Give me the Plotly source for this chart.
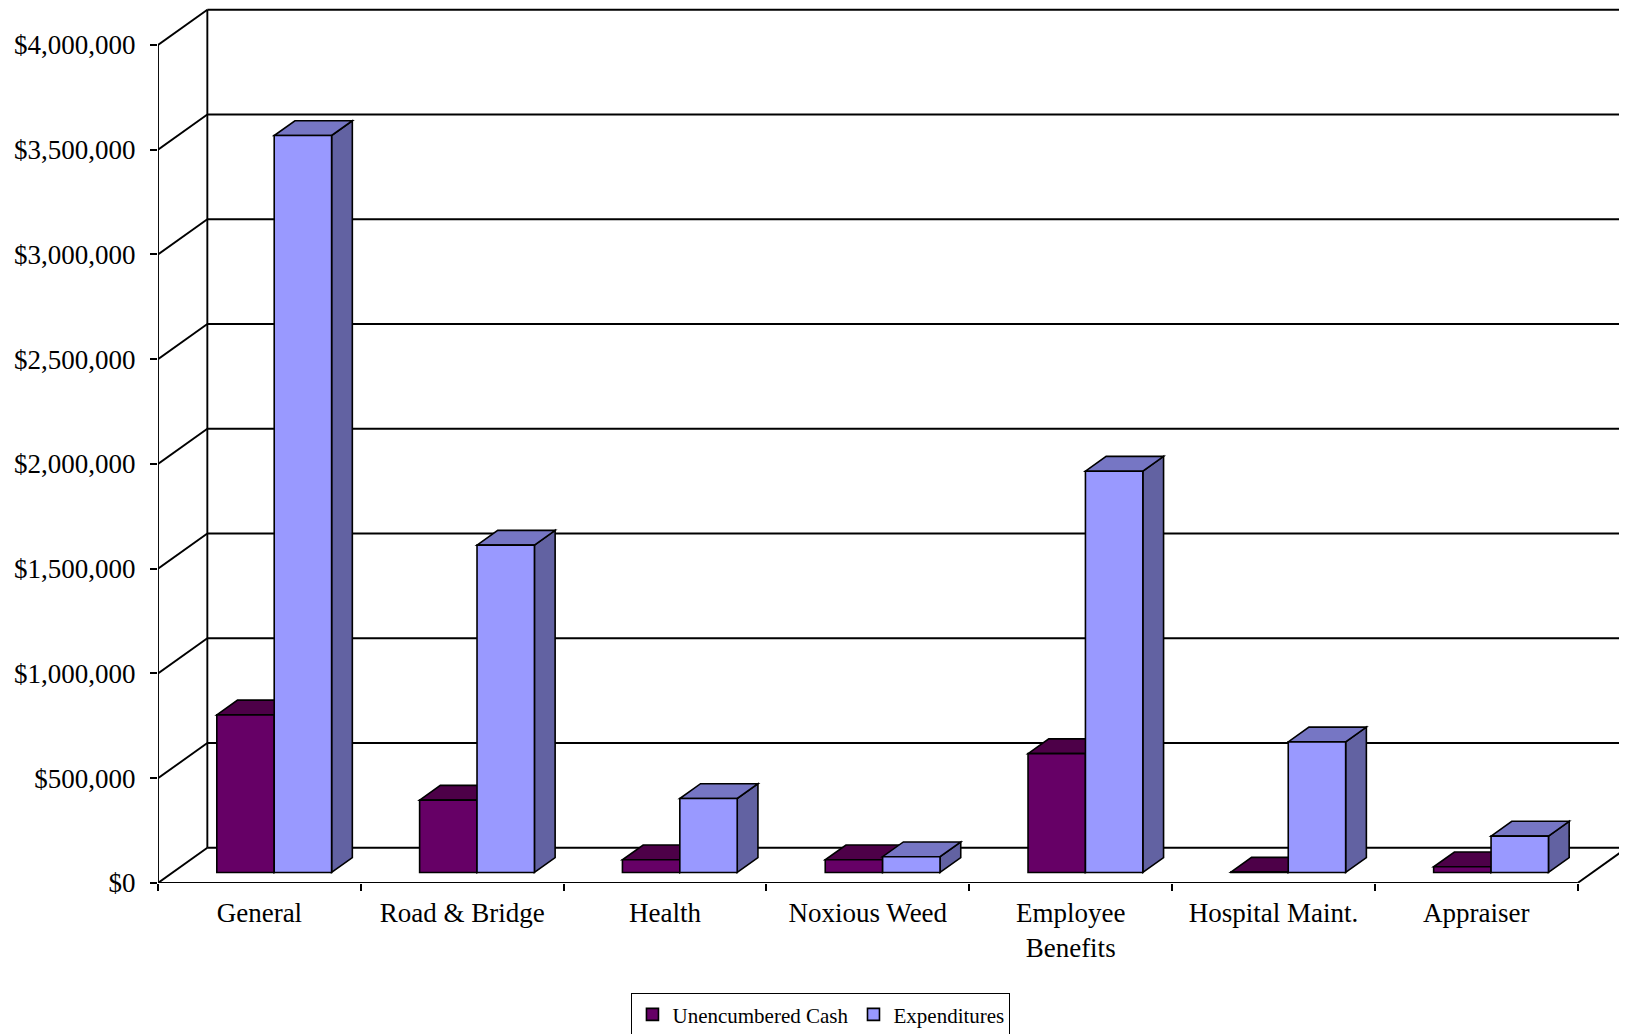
import plotly.graph_objects as go

# ---------------- data ----------------
CATEGORIES = ["General", "Road & Bridge", "Health", "Noxious Weed",
              "Employee<br>Benefits", "Hospital Maint.", "Appraiser"]
UNENCUMBERED_CASH = [752000, 345000, 60500, 60500, 567000, 1500, 27000]
EXPENDITURES = [3517000, 1562000, 353000, 75000, 1915000, 623000, 173500]
Y_TICKS = [0, 500000, 1000000, 1500000, 2000000, 2500000, 3000000, 3500000, 4000000]
Y_TICK_LABELS = ["$0", "$500,000", "$1,000,000", "$1,500,000", "$2,000,000",
                 "$2,500,000", "$3,000,000", "$3,500,000", "$4,000,000"]

# ---------------- pseudo-3D geometry (data units) ----------------
N = len(CATEGORIES)
DX = 0.2433          # depth offset along x (category units)
DY = 168000          # depth offset along y (value units)
F0, F1 = 0.30, 0.72  # front / back depth fraction of bars
BAR_W = 0.283
XMAX = N + DX
YMAX = 4176000
DXB = (F1 - F0) * DX
DYB = (F1 - F0) * DY
BASE = F0 * DY

SERIES = [
    dict(name="Unencumbered Cash", values=UNENCUMBERED_CASH,
         front="#660066", top="#4d0048", side="#3a0038", slot=-1),
    dict(name="Expenditures", values=EXPENDITURES,
         front="#9999ff", top="#7676c4", side="#6262a2", slot=0),
]

LINE = dict(color="black", width=1.9)
shapes = []

def seg(x0, y0, x1, y1):
    shapes.append(dict(type="line", xref="x", yref="y", x0=x0, y0=y0, x1=x1, y1=y1,
                       line=LINE, layer="below"))

# walls / floor
top_val = Y_TICKS[-1]
seg(0, 0, 0, top_val)
seg(DX, DY, DX, top_val + DY)
for v in Y_TICKS:
    seg(0, v, DX, v + DY)
    seg(DX, v + DY, XMAX, v + DY)
seg(0, 0, N, 0)
seg(N, 0, N + DX, DY)

fig = go.Figure()

# faces (top / side) as shapes below the bar traces
for i in range(N):
    for s in SERIES:
        v = s["values"][i]
        L = i + 0.5 + s["slot"] * BAR_W + F0 * DX
        R = L + BAR_W
        T = BASE + v
        top_path = (f"M{L},{T} L{R},{T} L{R + DXB},{T + DYB} "
                    f"L{L + DXB},{T + DYB} Z")
        side_path = (f"M{R},{BASE} L{R + DXB},{BASE + DYB} "
                     f"L{R + DXB},{T + DYB} L{R},{T} Z")
        shapes.append(dict(type="path", xref="x", yref="y", path=side_path,
                           fillcolor=s["side"], line=dict(color="black", width=1.6),
                           layer="below"))
        shapes.append(dict(type="path", xref="x", yref="y", path=top_path,
                           fillcolor=s["top"], line=dict(color="black", width=1.6),
                           layer="below"))

# front faces as real bars
for s in SERIES:
    xs = [i + 0.5 + s["slot"] * BAR_W + F0 * DX + BAR_W / 2 for i in range(N)]
    fig.add_trace(go.Bar(
        x=xs, y=s["values"], base=[BASE] * N, width=[BAR_W] * N,
        name=s["name"],
        marker=dict(color=s["front"], line=dict(color="black", width=1.6)),
    ))

FONT = "Liberation Serif, Times New Roman, serif"
fig.update_layout(
    width=1619, height=1026,
    margin=dict(l=150, r=0, t=0, b=151, autoexpand=False),
    paper_bgcolor="white", plot_bgcolor="white",
    barmode="overlay",
    shapes=shapes,
    font=dict(family=FONT, color="black"),
    showlegend=True,
    legend=dict(
        orientation="h", x=0.4513, y=-0.126, xanchor="center", yanchor="top",
        bordercolor="black", borderwidth=1, bgcolor="white",
        font=dict(family=FONT, size=21, color="black"),
        itemwidth=30,
    ),
    xaxis=dict(
        range=[0, XMAX], showgrid=False, zeroline=False, showline=False,
        tickvals=[i + 0.5 for i in range(N)], ticktext=CATEGORIES,
        ticks="", tickfont=dict(family=FONT, size=27, color="black"),
        ticklabelstandoff=11,
        minor=dict(tickvals=list(range(N + 1)), ticks="outside", ticklen=7,
                   tickcolor="black", tickwidth=1.9, showgrid=False),
    ),
    yaxis=dict(
        range=[0, YMAX], showgrid=False, zeroline=False, showline=False,
        tickvals=Y_TICKS, ticktext=Y_TICK_LABELS,
        ticks="outside", ticklen=7, tickcolor="black", tickwidth=1.9,
        tickfont=dict(family=FONT, size=27, color="black"),
        ticklabelstandoff=9,
    ),
)

fig.write_html("out.html")
